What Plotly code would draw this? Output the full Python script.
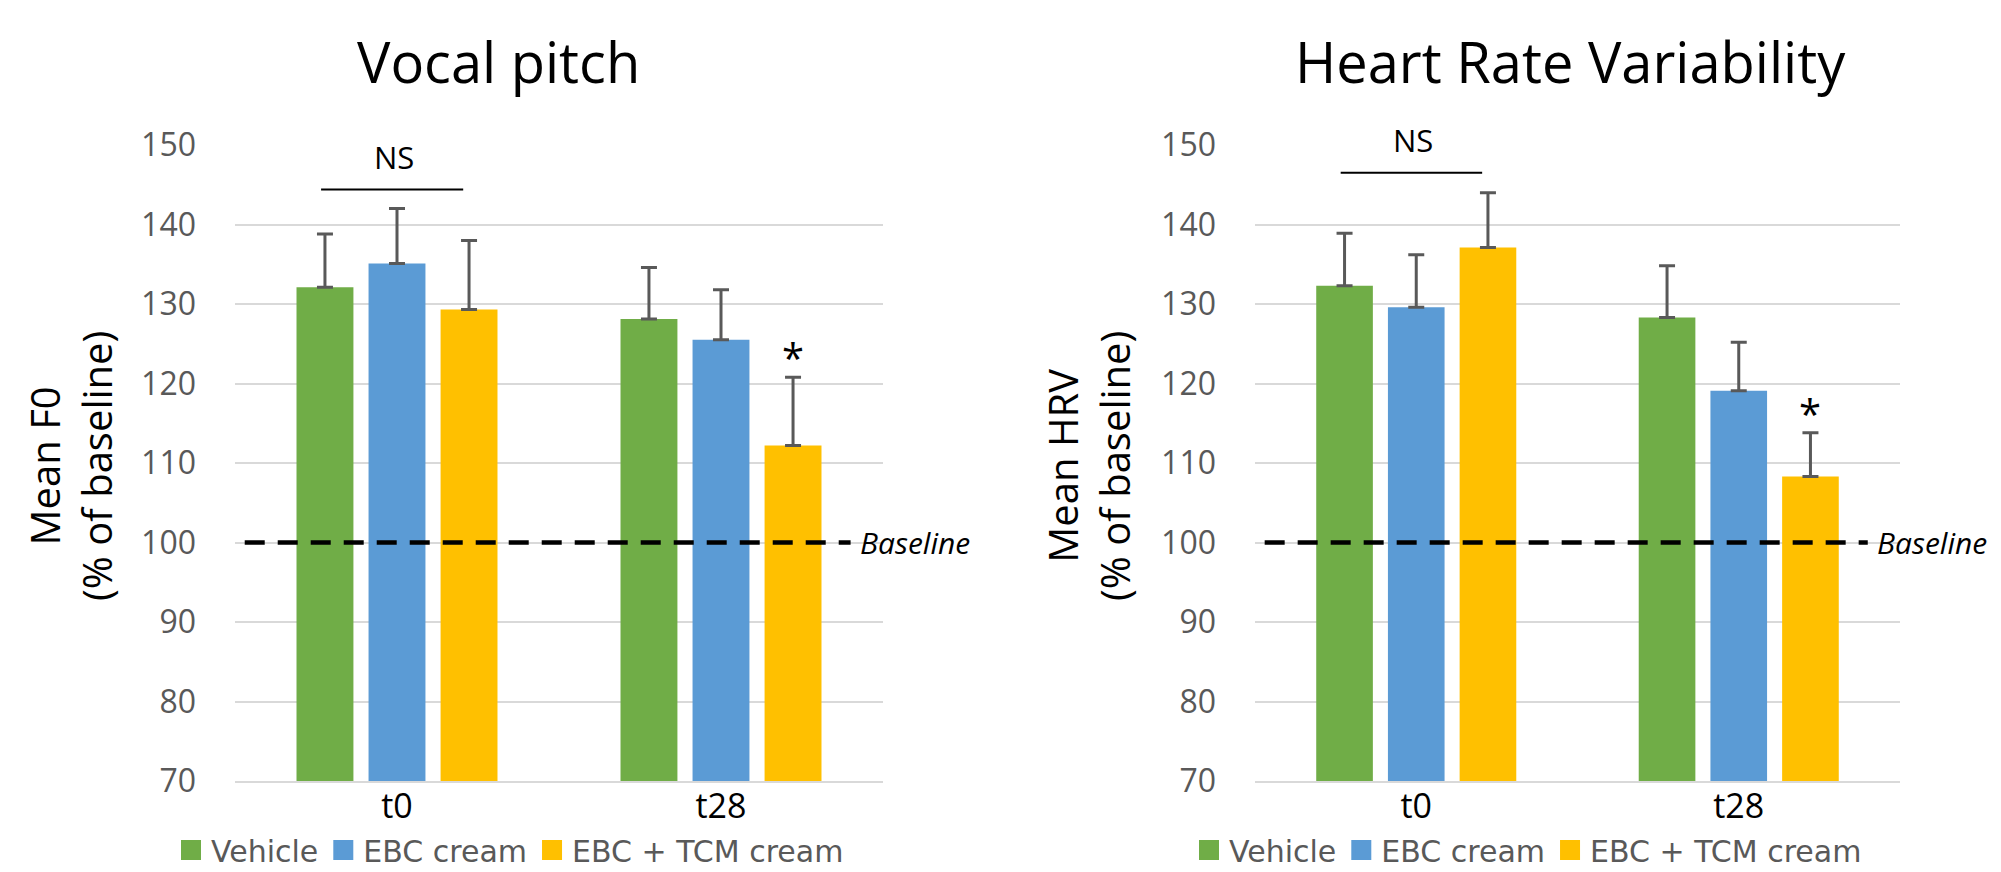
import plotly.graph_objects as go

# ---------------- data ----------------
categories = ["t0", "t28"]
series_names = ["Vehicle", "EBC cream", "EBC + TCM cream"]
series_colors = ["#70AD47", "#5B9BD5", "#FFC000"]

pitch_vehicle = [132.1, 128.1]
pitch_ebc = [135.1, 125.5]
pitch_tcm = [129.3, 112.2]
pitch_vehicle_err = [6.7, 6.5]
pitch_ebc_err = [6.9, 6.3]
pitch_tcm_err = [8.7, 8.6]

hrv_vehicle = [132.3, 128.3]
hrv_ebc = [129.6, 119.1]
hrv_tcm = [137.1, 108.3]
hrv_vehicle_err = [6.6, 6.5]
hrv_ebc_err = [6.6, 6.1]
hrv_tcm_err = [6.9, 5.5]

y_ticks = [70, 80, 90, 100, 110, 120, 130, 140, 150]
baseline_value = 100
ns_level = {"pitch": 144.4, "hrv": 146.5}

panel_titles = ["Vocal pitch", "Heart Rate Variability"]
y_titles = ["Mean F0<br>(% of baseline)", "Mean HRV<br>(% of baseline)"]

# ---------------- layout geometry (screen pixels) ----------------
# the page body keeps its default 8px margin, so the figure starts at (8, 8)
# and reaches the right/bottom edge of the 2001x872 window.
OFF = 8
W, H = 2001 - OFF, 872 - OFF
FONT = "Open Sans"
LEGEND_FONT = "DejaVu Sans"
GRAY = "#595959"
GRID = "#D9D9D9"


def px_x(v):
    return (v - OFF) / W


def px_y(v):
    return 1 - (v - OFF) / H


x1_dom = [px_x(235), px_x(883)]
x2_dom = [px_x(1255), px_x(1900)]
y_dom = [px_y(781), px_y(145)]

BARGAP = 0.333
GROUPGAP = 0.21
slot = (1 - BARGAP) / 3

fig = go.Figure()

panels = [
    ("x", "y", "legend", [pitch_vehicle, pitch_ebc, pitch_tcm],
     [pitch_vehicle_err, pitch_ebc_err, pitch_tcm_err]),
    ("x2", "y2", "legend2", [hrv_vehicle, hrv_ebc, hrv_tcm],
     [hrv_vehicle_err, hrv_ebc_err, hrv_tcm_err]),
]

for xa, ya, lg, vals, errs in panels:
    for name, color, v, e in zip(series_names, series_colors, vals, errs):
        fig.add_trace(go.Bar(
            x=categories, y=v, name=name, xaxis=xa, yaxis=ya,
            marker=dict(color=color, line=dict(width=0)),
            error_y=dict(type="data", array=e, symmetric=False,
                         arrayminus=[0] * len(e), color=GRAY,
                         thickness=3, width=8),
            showlegend=False, legendgroup=name,
        ))
    # legend entries (square swatches)
    for name, color in zip(series_names, series_colors):
        fig.add_trace(go.Scatter(
            x=[None], y=[None], mode="markers", name=name,
            xaxis=xa, yaxis=ya, legend=lg, legendgroup=name,
            marker=dict(symbol="square", size=16, color=color,
                        line=dict(color=color, width=4)),
            showlegend=True, hoverinfo="skip",
        ))

axis_common_x = dict(type="category", categoryorder="array",
                     categoryarray=categories, showgrid=False,
                     showline=True, linecolor=GRID, linewidth=2,
                     ticks="", tickfont=dict(family=FONT, size=34, color="#000000"),
                     ticklabelstandoff=-6, fixedrange=True, automargin=False)
axis_common_y = dict(range=[70, 150], tickvals=y_ticks, showgrid=True,
                     gridcolor=GRID, gridwidth=2, zeroline=False,
                     showline=False, ticks="",
                     tickfont=dict(family=FONT, size=32, color=GRAY),
                     ticklabelstandoff=38, fixedrange=True, automargin=False)

legend_common = dict(orientation="h", xanchor="center", yanchor="middle",
                     font=dict(family=LEGEND_FONT, size=30, color=GRAY),
                     bgcolor="rgba(0,0,0,0)", itemclick=False,
                     itemdoubleclick=False, tracegroupgap=0)

fig.update_layout(
    width=W, height=H,
    margin=dict(l=0, r=0, t=0, b=0, pad=0, autoexpand=False),
    paper_bgcolor="white", plot_bgcolor="white",
    barmode="group", bargap=BARGAP, bargroupgap=GROUPGAP,
    xaxis=dict(domain=x1_dom, anchor="y", **axis_common_x),
    yaxis=dict(domain=y_dom, anchor="x", **axis_common_y),
    xaxis2=dict(domain=x2_dom, anchor="y2", **axis_common_x),
    yaxis2=dict(domain=y_dom, anchor="x2", **axis_common_y),
    legend=dict(x=px_x(510), y=px_y(850), **legend_common),
    legend2=dict(x=px_x(1528), y=px_y(850), **legend_common),
    showlegend=True,
)

annotations = []
shapes = []

title_x = [px_x(498), px_x(1570)]
ytitle_x = [70, 1088]
xrefs = ["x", "x2"]
yrefs = ["y", "y2"]
ns_keys = ["pitch", "hrv"]
tcm_vals = [pitch_tcm, hrv_tcm]
tcm_errs = [pitch_tcm_err, hrv_tcm_err]

for i in range(2):
    xr, yr = xrefs[i], yrefs[i]
    # panel title
    annotations.append(dict(text=panel_titles[i], x=title_x[i], y=px_y(61),
                            xref="paper", yref="paper", showarrow=False,
                            xanchor="center", yanchor="middle",
                            font=dict(family=FONT, size=56, color="#000000")))
    # y-axis title (two rotated lines)
    annotations.append(dict(text=y_titles[i], x=px_x(ytitle_x[i]), y=px_y(466),
                            xref="paper", yref="paper", showarrow=False,
                            textangle=-90, xanchor="center", yanchor="middle",
                            font=dict(family=FONT, size=40, color="#000000")))
    # baseline dashed line
    shapes.append(dict(type="line", xref=f"{xr} domain", yref=yr,
                       x0=0.015, x1=0.95, y0=baseline_value, y1=baseline_value,
                       line=dict(color="#000000", width=4.5, dash="20px,13px"),
                       layer="above"))
    annotations.append(dict(text="<i>Baseline</i>", x=0.962, y=baseline_value,
                            xref=f"{xr} domain", yref=yr, showarrow=False,
                            xanchor="left", yanchor="middle",
                            font=dict(family=FONT, size=30, color="#000000")))
    # NS bracket over t0
    lvl = ns_level[ns_keys[i]]
    shapes.append(dict(type="line", xref=xr, yref=yr,
                       x0=-slot - 0.012, x1=slot - 0.018, y0=lvl, y1=lvl,
                       line=dict(color="#000000", width=2)))
    annotations.append(dict(text="NS", x=-0.01, y=lvl, xref=xr, yref=yr,
                            showarrow=False, xanchor="center", yanchor="bottom",
                            yshift=10,
                            font=dict(family=FONT, size=31, color="#000000")))
    # significance star over t28 TCM bar
    star_y = tcm_vals[i][1] + tcm_errs[i][1]
    annotations.append(dict(text="*", x=1 + slot, y=star_y, xref=xr, yref=yr,
                            showarrow=False, xanchor="center", yanchor="bottom",
                            yshift=-10,
                            font=dict(family=FONT, size=40, color="#000000")))

fig.update_layout(annotations=annotations, shapes=shapes)

fig.write_html("out.html")
